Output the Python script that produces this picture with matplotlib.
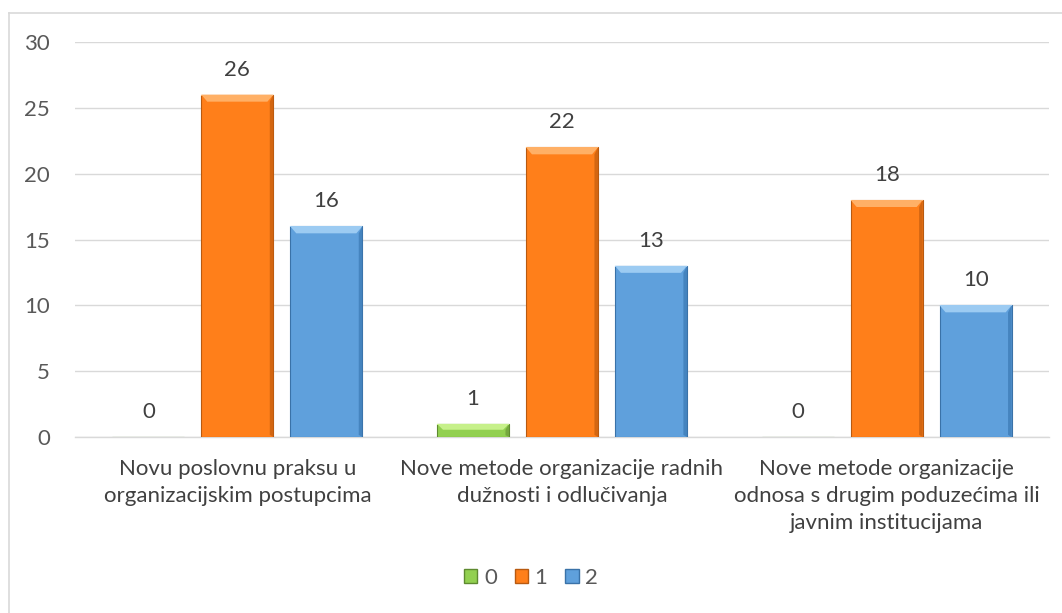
import matplotlib
matplotlib.use("Agg")
import matplotlib.pyplot as plt
from matplotlib.patches import Polygon, Rectangle
from matplotlib.lines import Line2D
import numpy as np

categories = ["Novu poslovnu praksu u\norganizacijskim postupcima",
              "Nove metode organizacije radnih\ndužnosti i odlučivanja",
              "Nove metode organizacije\nodnosa s drugim poduzećima ili\njavnim institucijama"]
series_names = ["0", "1", "2"]
values_0 = [0, 1, 0]
values_1 = [26, 22, 18]
values_2 = [16, 13, 10]
yticks = [0, 5, 10, 15, 20, 25, 30]

colors = {
    "0": dict(face="#92D050", light="#C6F08A", dark="#6E9E3A", edge="#5E8A30"),
    "1": dict(face="#FF7F1A", light="#FFB066", dark="#C9600F", edge="#B85A10"),
    "2": dict(face="#5FA0DC", light="#9CCBF2", dark="#3F7DB8", edge="#3A72A8"),
}

plt.rcParams['font.family'] = ['Lato', 'DejaVu Sans']
FS = 16
W, H = 1062, 613
fig = plt.figure(figsize=(W / 100, H / 100), dpi=100)
ax = fig.add_axes([75 / W, 1 - 437 / H, (1049 - 75) / W, (437 - 42) / H])

x = np.arange(len(categories))
width = 0.222
step = 0.274
all_vals = [values_0, values_1, values_2]

ppx = (1049 - 75) / 3.0       # pixels per x unit
ppy = (437 - 42) / 30.0       # pixels per y unit

for i, (name, vals) in enumerate(zip(series_names, all_vals)):
    c = colors[name]
    pos = x + (i - 1) * step
    bars = ax.bar(pos, vals, width, color=c["face"], edgecolor=c["edge"], linewidth=0.8, zorder=3)
    for b, v in zip(bars, vals):
        if v > 0:
            x0, x1 = b.get_x(), b.get_x() + b.get_width()
            top = v
            bx = 6 / ppx
            by = min(7 / ppy, v * 0.45)
            ax.add_patch(Polygon([[x0, top], [x1, top], [x1 - bx, top - by], [x0 + bx, top - by]],
                                 closed=True, facecolor=c["light"], edgecolor="none", zorder=4))
            ax.add_patch(Polygon([[x1, top], [x1, 0], [x1 - bx * 0.6, by * 0.3], [x1 - bx * 0.6, top - by]],
                                 closed=True, facecolor=c["dark"], edgecolor="none", alpha=0.8, zorder=4))
            ax.add_patch(Rectangle((x0, top - by * 0.15), width, by * 0.15, facecolor=c["light"],
                                   edgecolor="none", zorder=4))
        ax.annotate(str(v), (b.get_x() + b.get_width() / 2, v), xytext=(0, 18),
                    textcoords="offset points", ha="center", va="center",
                    fontsize=FS, color="#404040", zorder=6)

ax.set_xlim(-0.5, 2.5)
ax.set_ylim(0, 30)
ax.set_yticks(yticks)
ax.set_yticklabels([str(t) for t in yticks], fontsize=FS, color="#595959")
ax.yaxis.grid(True, color="#D9D9D9", linewidth=1.0, zorder=0)
ax.set_axisbelow(True)
for s in ["top", "right", "left"]:
    ax.spines[s].set_visible(False)
ax.spines["bottom"].set_color("#D9D9D9")
ax.spines["bottom"].set_linewidth(1.0)
ax.tick_params(axis="y", length=0, pad=18)
ax.tick_params(axis="x", length=0, pad=16)
ax.set_xticks(x)
ax.set_xticklabels(categories, fontsize=FS, color="#404040", linespacing=1.42)

handles = [Rectangle((0, 0), 1, 1, facecolor=colors[n]["face"], edgecolor=colors[n]["edge"]) for n in series_names]
fig.legend(handles, series_names, loc="center", bbox_to_anchor=(0.5, 1 - 578 / H), ncol=3,
           frameon=False, fontsize=FS, handlelength=0.6, handleheight=0.6, handletextpad=0.3,
           columnspacing=0.8, labelcolor="#595959")

fig.add_artist(Line2D([9 / W, 9 / W], [0, 1 - 13 / H], transform=fig.transFigure, color="#D9D9D9", lw=1.2))
fig.add_artist(Line2D([9 / W, 1], [1 - 13 / H, 1 - 13 / H], transform=fig.transFigure, color="#D9D9D9", lw=1.2))

fig.savefig("out.png", dpi=100)
